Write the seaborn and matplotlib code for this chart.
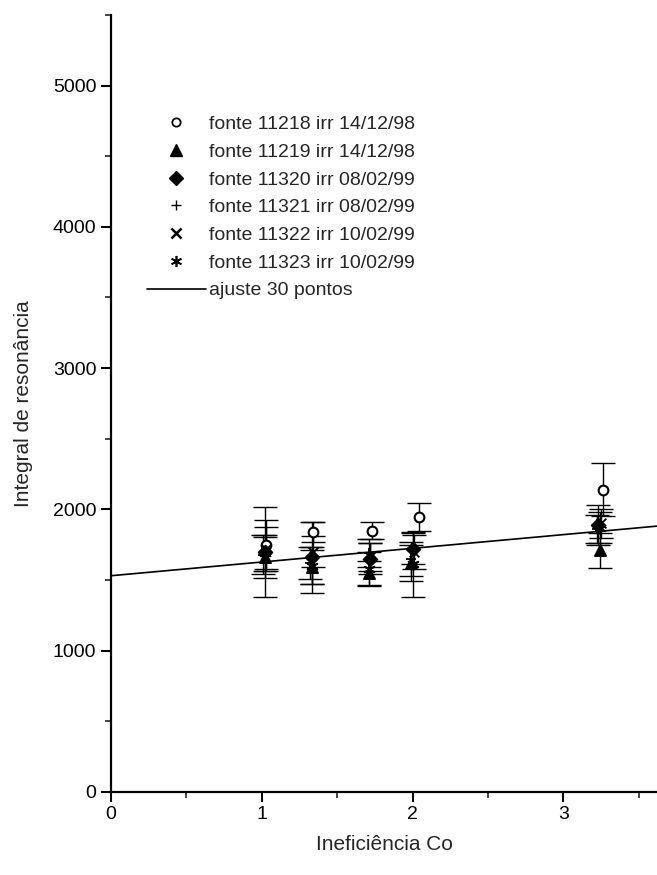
import numpy as np
import pandas as pd
import matplotlib
matplotlib.use("Agg")
import matplotlib.pyplot as plt
from matplotlib.lines import Line2D
from matplotlib.ticker import MultipleLocator
import seaborn as sns

# dados
fontes = ["fonte 11218 irr 14/12/98", "fonte 11219 irr 14/12/98",
          "fonte 11320 irr 08/02/99", "fonte 11321 irr 08/02/99",
          "fonte 11322 irr 10/02/99", "fonte 11323 irr 10/02/99"]

x_11218 = [1.03, 1.34, 1.73, 2.04, 3.26]
y_11218 = [1750, 1840, 1850, 1945, 2140]
e_11218 = [175, 70, 60, 100, 190]

x_11219 = [1.02, 1.33, 1.71, 1.99, 3.24]
y_11219 = [1660, 1590, 1550, 1620, 1710]
e_11219 = [145, 120, 85, 130, 125]

x_11320 = [1.02, 1.33, 1.72, 2.00, 3.23]
y_11320 = [1700, 1660, 1650, 1720, 1890]
e_11320 = [320, 250, 110, 110, 140]

x_11321 = [1.01, 1.32, 1.71, 1.99, 3.22]
y_11321 = [1680, 1620, 1690, 1650, 1860]
e_11321 = [140, 110, 100, 120, 100]

x_11322 = [1.03, 1.34, 1.72, 2.01, 3.25]
y_11322 = [1720, 1700, 1660, 1700, 1900]
e_11322 = [155, 110, 100, 120, 100]

x_11323 = [1.02, 1.33, 1.71, 2.00, 3.24]
y_11323 = [1690, 1600, 1580, 1610, 1870]
e_11323 = [130, 130, 120, 230, 110]

# ajuste linear (30 pontos)
ajuste_a = 1530.0
ajuste_b = 97.0

xs = [x_11218, x_11219, x_11320, x_11321, x_11322, x_11323]
ys = [y_11218, y_11219, y_11320, y_11321, y_11322, y_11323]
es = [e_11218, e_11219, e_11320, e_11321, e_11322, e_11323]

df = pd.DataFrame({
    "x": np.concatenate(xs),
    "y": np.concatenate(ys),
    "err": np.concatenate(es),
    "fonte": np.repeat(fontes, 5),
})

sns.set_theme(style="ticks")
plt.rcParams['font.family'] = ['Liberation Sans', 'DejaVu Sans']

marcadores = {fontes[0]: "o", fontes[1]: "^", fontes[2]: "D",
              fontes[3]: "+", fontes[4]: "x", fontes[5]: (6, 2, 0)}
tamanhos = {fontes[0]: 7, fontes[1]: 8, fontes[2]: 7,
            fontes[3]: 7, fontes[4]: 7, fontes[5]: 8}

fig = plt.figure(figsize=(6.57, 8.75), dpi=100)
ax = fig.add_axes([0.169, 0.095, 0.831, 0.888])

# barras de erro
for f in fontes:
    d = df[df["fonte"] == f]
    ax.errorbar(d["x"], d["y"], yerr=d["err"], fmt="none", ecolor="black",
                elinewidth=1.0, capsize=8.5, capthick=1.0, zorder=2)

# pontos
for f in fontes:
    d = df[df["fonte"] == f]
    m = marcadores[f]
    if f == fontes[0]:
        ax.plot(d["x"], d["y"], linestyle="none", marker="o", ms=7,
                mfc="white", mec="black", mew=1.5, zorder=3)
    else:
        sns.scatterplot(data=d, x="x", y="y", marker=m, color="black",
                        s=tamanhos[f] ** 2, linewidth=1.3, edgecolor="black",
                        ax=ax, legend=False, zorder=3)

# reta de ajuste
ax.set_xlim(0, 3.62)
ax.set_ylim(0, 5500)
xr = np.array(ax.get_xlim())
sns.lineplot(x=xr, y=ajuste_a + ajuste_b * xr, color="black", linewidth=1.2,
             ax=ax, zorder=2)

ax.xaxis.set_major_locator(MultipleLocator(1))
ax.xaxis.set_minor_locator(MultipleLocator(0.5))
ax.yaxis.set_major_locator(MultipleLocator(1000))
ax.yaxis.set_minor_locator(MultipleLocator(500))
ax.tick_params(axis="both", which="major", length=7, width=1.5,
               labelsize=14, colors="black", direction="out")
ax.tick_params(axis="both", which="minor", length=4, width=1.2, direction="out")
sns.despine(ax=ax)
ax.spines["left"].set_linewidth(1.6)
ax.spines["bottom"].set_linewidth(1.6)
ax.spines["left"].set_color("black")
ax.spines["bottom"].set_color("black")

ax.set_xlabel("Ineficiência Co", fontsize=15, labelpad=8)
ax.set_ylabel("Integral de resonância", fontsize=15, labelpad=14)

# legenda
handles = [
    Line2D([], [], linestyle="none", marker="o", ms=6, mfc="white", mec="black", mew=1.3),
    Line2D([], [], linestyle="none", marker="^", ms=8, color="black"),
    Line2D([], [], linestyle="none", marker="D", ms=7, color="black"),
    Line2D([], [], linestyle="none", marker="+", ms=7, color="black", mew=1.0),
    Line2D([], [], linestyle="none", marker="x", ms=7, color="black", mew=1.8),
    Line2D([], [], linestyle="none", marker=(6, 2, 0), ms=8, color="black", mew=1.2),
    Line2D([], [], color="black", linewidth=1.2),
]
labels = fontes + ["ajuste 30 pontos"]
fig.legend(handles, labels, loc="upper left", bbox_to_anchor=(0.224, 0.868),
           frameon=False, fontsize=14, handlelength=3.0, handletextpad=0.2,
           labelspacing=0.52, borderpad=0, borderaxespad=0)

fig.savefig("out.png", dpi=100)
